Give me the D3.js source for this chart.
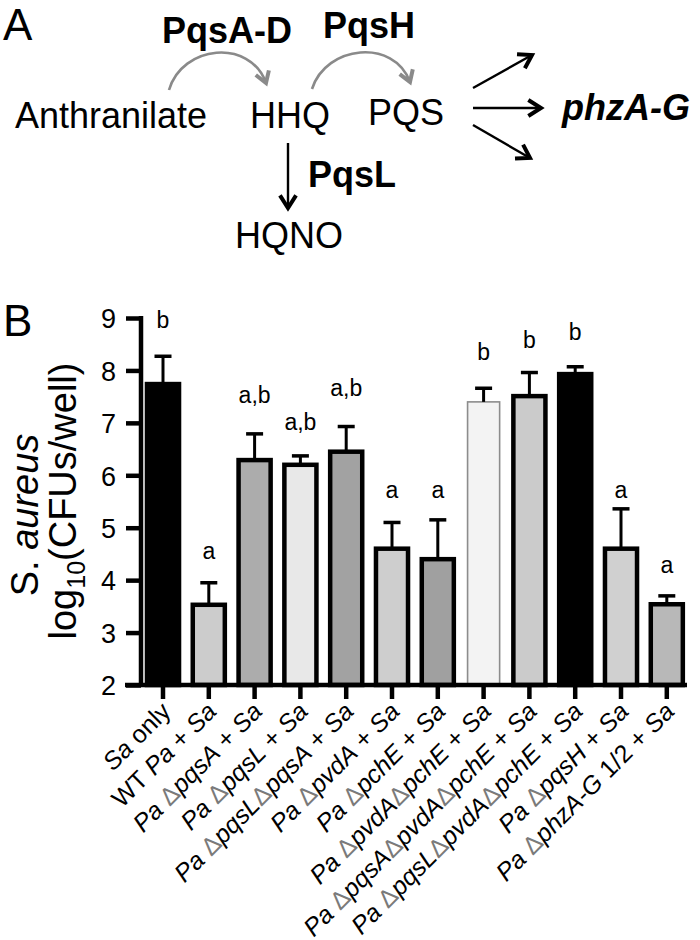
<!DOCTYPE html>
<html><head><meta charset="utf-8">
<script src="https://cdn.jsdelivr.net/npm/d3@7"></script>
<style>body{margin:0;background:#fff}svg{display:block;font-family:"Liberation Sans",Arial,sans-serif}</style>
</head><body><svg id="c" width="700" height="940"></svg>
<script>
// ---------- DATA ----------
const categories = [
  "Sa only","WT Pa + Sa","Pa ΔpqsA + Sa","Pa ΔpqsL + Sa","Pa ΔpqsLΔpqsA + Sa",
  "Pa ΔpvdA + Sa","Pa ΔpchE + Sa","Pa ΔpvdAΔpchE + Sa","Pa ΔpqsAΔpvdAΔpchE + Sa",
  "Pa ΔpqsLΔpvdAΔpchE + Sa","Pa ΔpqsH + Sa","Pa ΔphzA-G 1/2 + Sa"];
const means  = [7.74, 3.53, 6.29, 6.20, 6.45, 4.60, 4.40, 7.40, 7.51, 7.93, 4.60, 3.54];
const errors = [0.53, 0.42, 0.50, 0.17, 0.48, 0.50, 0.75, 0.26, 0.45, 0.14, 0.76, 0.16];
const letters = ["b","a","a,b","a,b","a,b","a","a","b","b","b","a","a"];
const letterLevels = [8.81, 4.40, 7.38, 6.86, 7.51, 5.57, 5.57, 8.20, 8.43, 8.58, 5.57, 4.14];
const fills = ["#000000","#cccccc","#acacac","#e8e8e8","#a2a2a2","#cecece","#a0a0a0","#f3f3f3","#cbcbcb","#000000","#d0d0d0","#b8b8b8"];
const yTicks = [2,3,4,5,6,7,8,9];

const svg = d3.select("#c");
const F = '"Liberation Sans", Arial, sans-serif';

// ---------- PANEL A (pathway) ----------
function txt(x,y,s,size,opts={}){
  return svg.append("text").attr("x",x).attr("y",y).text(s)
    .attr("font-size",size).attr("font-weight",opts.bold?"bold":"normal")
    .attr("font-style",opts.italic?"italic":"normal").attr("fill",opts.fill||"#000");
}
txt(3,40,"A",44);
txt(162,43,"PqsA-D",36,{bold:true});
txt(323,38,"PqsH",36,{bold:true});
txt(15,128,"Anthranilate",36);
txt(250,128,"HHQ",36);
txt(368,125,"PQS",36);
txt(562,120,"phzA-G",36,{bold:true,italic:true});
txt(308,187,"PqsL",36,{bold:true});
txt(235,248,"HQNO",36);

function head(x2,y2,ang,len,color,w){
  const a1=ang+Math.PI*0.82, a2=ang-Math.PI*0.82;
  svg.append("path").attr("d",`M${x2+len*Math.cos(a1)},${y2+len*Math.sin(a1)}L${x2},${y2}L${x2+len*Math.cos(a2)},${y2+len*Math.sin(a2)}`)
    .attr("fill","none").attr("stroke",color).attr("stroke-width",w).attr("stroke-linejoin","miter").attr("stroke-linecap","butt");
}
function arrow(x1,y1,x2,y2){
  svg.append("line").attr("x1",x1).attr("y1",y1).attr("x2",x2).attr("y2",y2).attr("stroke","#000").attr("stroke-width",2.4);
  head(x2,y2,Math.atan2(y2-y1,x2-x1),15,"#000",4);
}
function curved(x1,y1,c1x,c1y,c2x,c2y,x2,y2){
  svg.append("path").attr("d",`M${x1},${y1}C${c1x},${c1y} ${c2x},${c2y} ${x2},${y2}`)
    .attr("fill","none").attr("stroke","#8a8a8a").attr("stroke-width",2.6);
  head(x2,y2,Math.atan2(y2-c2y,x2-c2x),13,"#8a8a8a",4);
}
curved(169,90,182,45,250,38,266,83);
curved(312,89,326,45,394,38,410,82);
arrow(288,143,288,208);
arrow(473,88,532,55);
arrow(473,108,541,108);
arrow(473,125,530,158);

// ---------- PANEL B (bar chart) ----------
txt(3,336,"B",44);

const y = d3.scaleLinear().domain([2,9]).range([685,318]);
const step = 45.8, c0 = 163;
const x = d3.scaleBand().domain(categories)
  .range([c0-step/2, c0+step*(categories.length-0.5)]).paddingInner(0.3).paddingOuter(0.15);

const g = svg.append("g");
const bars = g.selectAll(".bar").data(categories).enter().append("g");
bars.append("rect")
  .attr("x",d=>x(d)).attr("width",x.bandwidth())
  .attr("y",(d,i)=>y(means[i])).attr("height",(d,i)=>y(2)-y(means[i]))
  .attr("fill",(d,i)=>fills[i])
  .attr("stroke",(d,i)=>i===7?"#8c8c8c":"#000")
  .attr("stroke-width",(d,i)=>i===7?1.6:4.5);
// error bars (upper only)
bars.append("line")
  .attr("x1",d=>x(d)+x.bandwidth()/2).attr("x2",d=>x(d)+x.bandwidth()/2)
  .attr("y1",(d,i)=>y(means[i])).attr("y2",(d,i)=>y(means[i]+errors[i]))
  .attr("stroke","#000").attr("stroke-width",3);
bars.append("line")
  .attr("x1",d=>x(d)+x.bandwidth()/2-8.5).attr("x2",d=>x(d)+x.bandwidth()/2+8.5)
  .attr("y1",(d,i)=>y(means[i]+errors[i])).attr("y2",(d,i)=>y(means[i]+errors[i]))
  .attr("stroke","#000").attr("stroke-width",3.5);
bars.append("text")
  .attr("x",d=>x(d)+x.bandwidth()/2).attr("y",(d,i)=>y(letterLevels[i]))
  .attr("text-anchor","middle").attr("font-size",23).text((d,i)=>letters[i]);

// y axis
const ya = svg.append("g").attr("transform","translate(141,0)")
  .call(d3.axisLeft(y).tickValues(yTicks).tickFormat(d3.format("d")).tickSize(15).tickSizeOuter(0).tickPadding(10));
ya.select(".domain").attr("stroke-width",4.5).attr("d","M0,316V687");
ya.selectAll(".tick line").attr("stroke-width",4.5);
ya.selectAll(".tick text").attr("font-size",27).attr("font-family",F).attr("dy","0.36em");

// x axis
const xa = svg.append("g").attr("transform","translate(0,685)")
  .call(d3.axisBottom(x).tickSize(14).tickSizeOuter(0).tickFormat(""));
xa.select(".domain").attr("stroke-width",4.5).attr("d","M125,0H687");
xa.selectAll(".tick line").attr("stroke-width",4.5);

// x labels
const upright = new Set(["WT","+","1/2","only"]);
const xl = svg.append("g");
categories.forEach(c=>{
  const t = xl.append("text")
    .attr("transform",`translate(${x(c)+x.bandwidth()/2+9},${713}) rotate(-45)`)
    .attr("text-anchor","end").attr("font-size",25);
  const words = c.split(" ");
  words.forEach((w,wi)=>{
    const parts = w.split(/(Δ)/).filter(s=>s.length);
    parts.forEach((p,pi)=>{
      const s = (pi===0 && wi>0 ? " " : "") + p;
      const sp = t.append("tspan").text(s);
      if(p==="Δ") sp.attr("fill","#7a7a7a");
      else if(!upright.has(p)) sp.attr("font-style","italic");
    });
  });
});

// y title
const yt1 = svg.append("text").attr("transform","translate(38,515) rotate(-90)")
  .attr("text-anchor","middle").attr("font-size",38);
yt1.append("tspan").text("S. ");
yt1.append("tspan").attr("font-style","italic").text("aureus");
const yt2 = svg.append("text").attr("transform","translate(76,501) rotate(-90)")
  .attr("text-anchor","middle").attr("font-size",38);
yt2.append("tspan").text("log");
yt2.append("tspan").attr("font-size",25).attr("dy",9).text("10");
yt2.append("tspan").attr("dy",-9).text("(CFUs/well)");
</script></body></html>
